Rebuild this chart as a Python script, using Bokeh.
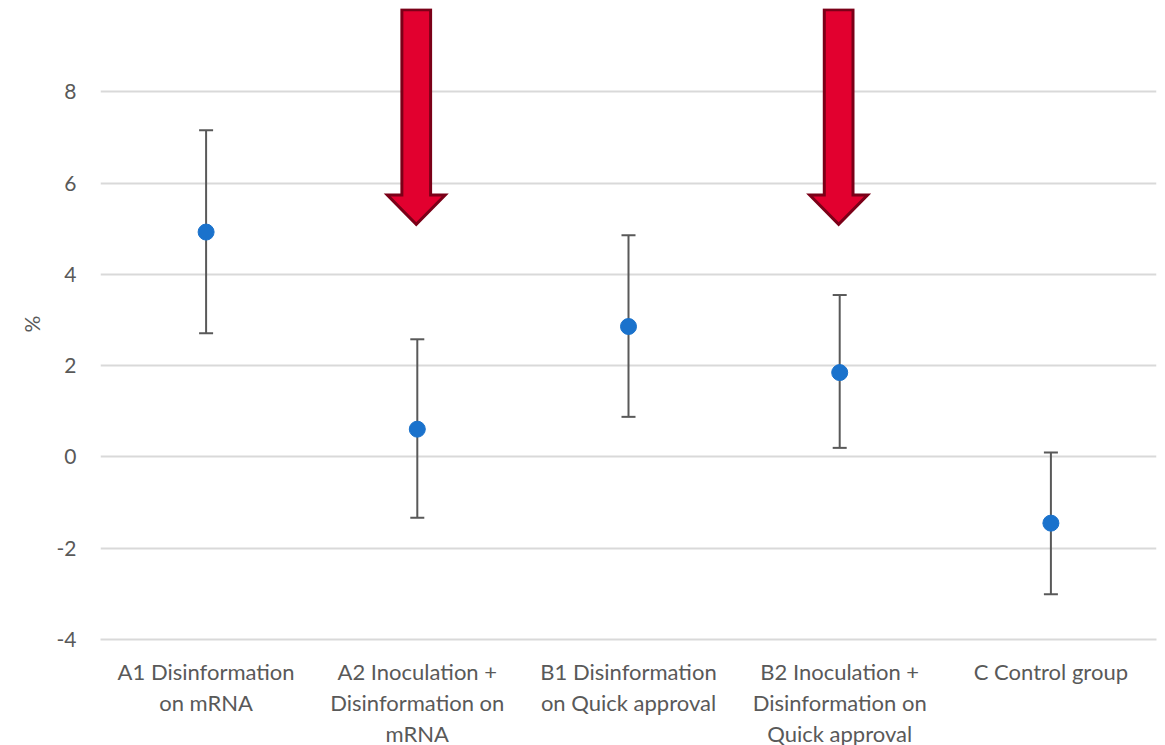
from bokeh.plotting import figure
from bokeh.models import ColumnDataSource, Whisker, FixedTicker, Range1d, TeeHead
from bokeh.embed import file_html
from bokeh.resources import INLINE

categories = ["A1 Disinformation\non mRNA",
              "A2 Inoculation +\nDisinformation on\nmRNA",
              "B1 Disinformation\non Quick approval",
              "B2 Inoculation +\nDisinformation on\nQuick approval",
              "C Control group"]
means = [4.93, 0.61, 2.86, 1.85, -1.45]
upper = [7.16, 2.58, 4.86, 3.55, 0.10]
lower = [2.71, -1.33, 0.88, 0.20, -3.01]
highlighted = [1, 3]  # categories marked with an arrow
y_ticks = [-4, -2, 0, 2, 4, 6, 8]
y_tick_labels = ["-4", "-2", "0", "2", "4", "6", "8"]

FONT = "Lato"
GREY = "#595959"

xs = list(range(len(categories)))
src = ColumnDataSource(dict(x=xs, m=means, up=upper, lo=lower))

p = figure(frame_width=1056, frame_height=631, output_backend="svg", toolbar_location=None,
           x_range=Range1d(-0.5, len(categories) - 0.5), y_range=Range1d(-4, 9.83),
           min_border_left=100, min_border_right=2, min_border_top=8, min_border_bottom=0)
p.outline_line_color = None
p.background_fill_color = "white"

# arrows (drawn first, behind)
for i in highlighted:
    cx = xs[i] - 0.005
    sw, hw = 0.068, 0.137
    top, base, tip = 9.80, 5.74, 5.10
    p.patch([cx - sw, cx + sw, cx + sw, cx + hw, cx, cx - hw, cx - sw],
            [top, top, base, base, tip, base, base],
            fill_color="#E2002F", line_color="#7B0018", line_width=3, line_join="miter")

w = Whisker(source=src, base="x", upper="up", lower="lo", line_color=GREY, line_width=2,
            upper_head=TeeHead(size=14, line_color=GREY, line_width=2),
            lower_head=TeeHead(size=14, line_color=GREY, line_width=2))
p.add_layout(w)
p.scatter("x", "m", source=src, size=16, color="#1a72cc")

# axes
p.xaxis.ticker = FixedTicker(ticks=xs)
p.xaxis.major_label_overrides = {i: c for i, c in enumerate(categories)}
p.xaxis.axis_line_color = "#d9d9d9"
p.xaxis.axis_line_width = 2
p.xaxis.major_tick_line_color = None
p.xaxis.minor_tick_line_color = None
p.xaxis.major_label_text_font = FONT
p.xaxis.major_label_text_font_size = "22px"
p.xaxis.major_label_text_color = GREY
p.xaxis.major_label_standoff = 12
p.xaxis.major_label_text_line_height = 1.15

p.yaxis.ticker = FixedTicker(ticks=y_ticks)
p.yaxis.major_label_overrides = {t: s for t, s in zip(y_ticks, y_tick_labels)}
p.yaxis.axis_line_color = None
p.yaxis.major_tick_line_color = None
p.yaxis.minor_tick_line_color = None
p.yaxis.major_label_text_font = FONT
p.yaxis.major_label_text_font_size = "21px"
p.yaxis.major_label_text_color = GREY
p.yaxis.major_label_standoff = 18
p.yaxis.axis_label = "%"
p.yaxis.axis_label_text_font = FONT
p.yaxis.axis_label_text_font_size = "21px"
p.yaxis.axis_label_text_font_style = "normal"
p.yaxis.axis_label_text_color = GREY
p.yaxis.axis_label_standoff = 10

p.xgrid.grid_line_color = None
p.ygrid.ticker = FixedTicker(ticks=y_ticks)
p.ygrid.grid_line_color = "#d9d9d9"
p.ygrid.grid_line_width = 2

open("out.html", "w").write(file_html(p, INLINE))
